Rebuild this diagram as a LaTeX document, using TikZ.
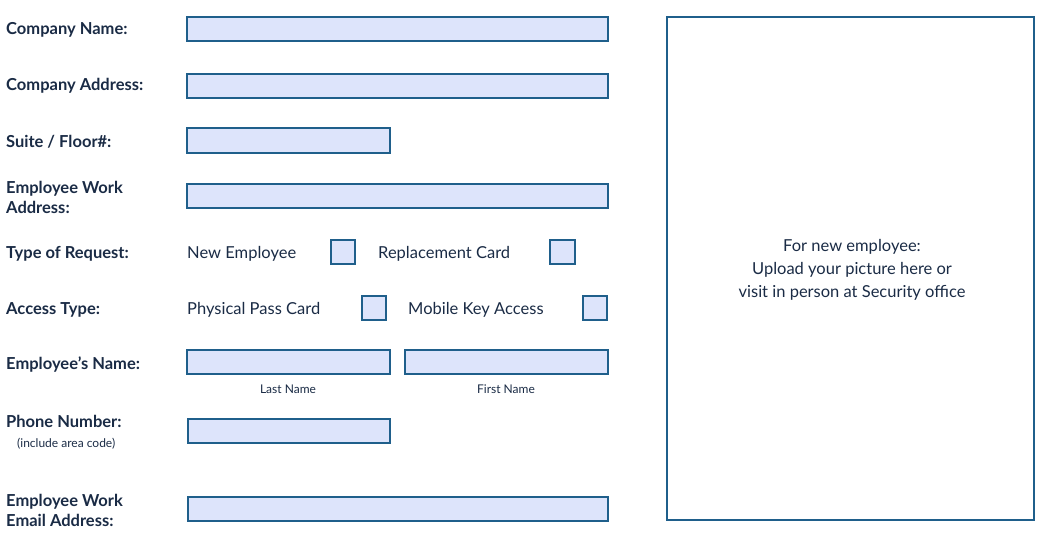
\documentclass[tikz,border=0pt]{standalone}
\usepackage{fontspec}
\setmainfont{Lato}
\definecolor{fbord}{HTML}{1F5F8B}
\definecolor{ffill}{HTML}{DDE4FB}
\definecolor{ink}{HTML}{1A2B45}
\begin{document}
\begin{tikzpicture}[x=1pt,y=-1pt,
 fld/.style={draw=fbord,fill=ffill,line width=1.6pt},
 lbl/.style={anchor=west,inner sep=0,text=ink,font=\fontsize{16.5}{20}\selectfont\bfseries,align=left},
 txt/.style={anchor=west,inner sep=0,text=ink,font=\fontsize{16.5}{20}\selectfont},
 sml/.style={inner sep=0,text=ink,font=\fontsize{12}{14}\selectfont}]
\useasboundingbox (0,0) rectangle (1041,537);
\draw[fld] (187,17) rectangle (608,41);
\draw[fld] (187,74) rectangle (608,98);
\draw[fld] (187,128) rectangle (390,153);
\draw[fld] (187,184) rectangle (608,208);
\draw[fld] (331,240) rectangle (355,264);
\draw[fld] (550,240) rectangle (575,264);
\draw[fld] (362,296) rectangle (386,320);
\draw[fld] (583,296) rectangle (607,320);
\draw[fld] (187,350) rectangle (390,374);
\draw[fld] (405,350) rectangle (608,374);
\draw[fld] (188,419) rectangle (390,443);
\draw[fld] (188,497) rectangle (608,521);
\draw[draw=fbord,line width=1.6pt] (667,17) rectangle (1034,520);
\node[lbl] (l1) at (6,30) {Company Name:};
\node[lbl] (l2) at (6,86) {Company Address:};
\node[lbl] (l3) at (6,142) {Suite / Floor\#:};
\node[lbl] (l4) at (6,197) {Employee Work\\Address:};
\node[lbl] (l5) at (6,254) {Type of Request:};
\node[lbl] (l6) at (6,310) {Access Type:};
\node[lbl] (l7) at (6,365) {Employee’s Name:};
\node[lbl] (l8) at (6,421) {Phone Number:};
\node[lbl] (l9) at (6,510) {Employee Work\\Email Address:};
\node[txt] (t1) at (187,254) {New Employee};
\node[txt] (t2) at (378,254) {Replacement Card};
\node[txt] (t3) at (187,310) {Physical Pass Card};
\node[txt] (t4) at (408,310) {Mobile Key Access};
\node[sml] (s1) at (288,389) {Last Name};
\node[sml] (s2) at (506,389) {First Name};
\node[sml,anchor=west] (s3) at (17,444) {(include area code)};
\node[txt,anchor=center,align=center,font=\fontsize{16.5}{23}\selectfont] (p) at (852,270) {For new employee:\\Upload your picture here or\\visit in person at Security office};
\end{tikzpicture}
\end{document}
